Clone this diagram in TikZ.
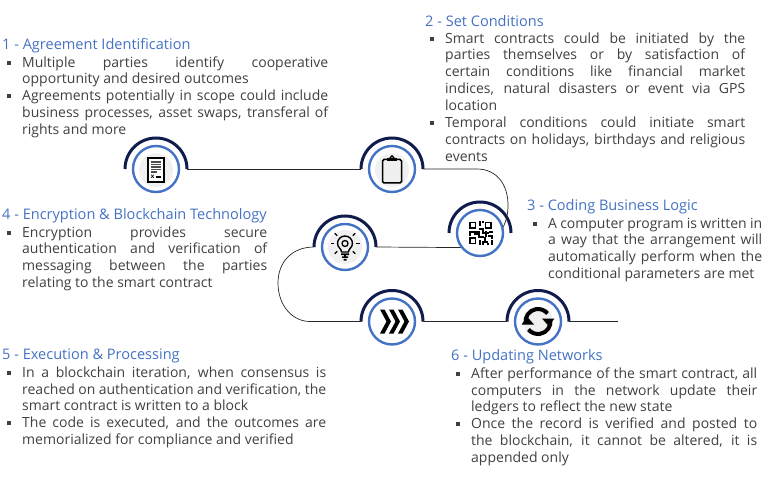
\documentclass[tikz,border=0pt]{standalone}
\usepackage{fontspec}
\setmainfont{Open Sans}
\usetikzlibrary{positioning,calc}

\definecolor{ringblue}{HTML}{4472C4}
\definecolor{halonavy}{HTML}{0F1C4D}
\definecolor{bodygray}{HTML}{404040}
\definecolor{iconback}{HTML}{F0F0F0}

\newlength{\bulletgap}
\setlength{\bulletgap}{15pt}
\newcommand{\bulletline}{\par\hangindent=\bulletgap\hangafter=1 \noindent\makebox[\bulletgap][l]{\raisebox{2.5pt}{\rule{4pt}{4pt}}}}

\tikzset{
	ring/.style={circle, draw=ringblue, line width=2.4pt, fill=white, minimum size=46pt, inner sep=0pt},
	halo/.style={circle, minimum size=62pt, inner sep=0pt, outer sep=0pt},
	link/.style={draw=black!85, line width=0.7pt},
	heading/.style={anchor=base west, inner sep=0pt, text=ringblue, font=\fontsize{14.55}{16}\selectfont},
	bodytext/.style={anchor=north west, inner sep=0pt, text=bodygray, align=justify, font=\fontsize{14}{16.9}\selectfont}
}

\begin{document}
\begin{tikzpicture}[x=1pt, y=-1pt]
	\useasboundingbox (0,0) rectangle (765,494);

	% Rings and the invisible discs round them
	\foreach \name/\px/\py in {1/156/169, 2/392/169, 3/480/233, 4/345/247, 5/392/321.5, 6/538/321.5} {
		\node [halo] (h\name) at (\px,\py) {};
		\draw [halonavy, line width=3pt] (h\name.west) arc [start angle=180, end angle=0, radius=31pt];
		\node [ring] (c\name) at (\px,\py) {};
	}
	\coordinate (bendtwo) at (477,169);
	\coordinate (sidetwo) at (508,205);
	\coordinate (bendfour) at (278,283);
	\coordinate (bendfive) at (310,321.5);
	\coordinate (endsix) at (618,321.5);

	% Paths
	\path [link] (h1.east) -- (h2.west);
	\path [link] (h2.east) -- (bendtwo) .. controls (497,169) and (508,185) .. (sidetwo) .. controls (508,215) and (506,221) .. (c3.15);
	\path [link] (h4.east) -- (c3.217.5);
	\path [link] (h4.west) .. controls (292,247) and (278,262) .. (bendfour) .. controls (278,305) and (292,321.5) .. (bendfive) -- (h5.west);
	\path [link] (h5.east) -- (h6.west);
	\path [link] (h6.east) -- (endsix);

	% Icons
	\begin{scope}[shift={(156,170)}]
		\fill [iconback] (0,0) circle (17pt);
		\draw [black, line width=1.3pt, fill=white] (-8,-12) rectangle (8,12);
		\foreach \y in {-8,-5.5,-3,-0.5} \draw [black!70, line width=1.1pt] (-5,\y) -- (5,\y);
		\draw [black!70, line width=1.1pt] (-5,2) -- (1,2);
		\node [inner sep=0pt, font=\fontsize{6}{6}\selectfont\bfseries] (xmark) at (-3.5,7) {x};
		\draw [black, line width=1.1pt] (0,7) -- (5,7);
	\end{scope}
	\begin{scope}[shift={(392,170)}]
		\fill [iconback] (0,0) circle (17pt);
		\draw [black, line width=1.5pt, fill=iconback, rounded corners=1.5pt] (-9.5,-10.5) rectangle (9.5,13);
		\fill [black] (-5,-9) rectangle (5,-12);
		\draw [black, line width=1.3pt, fill=iconback] (0,-12.5) circle (1.8pt);
	\end{scope}
	\begin{scope}[shift={(480.5,233.5)}]
		\foreach \x/\y in {-10.5/-11, 5/-11, -10.5/4.5} {
			\draw [black, line width=1.6pt] (\x,\y) rectangle +(5.5,5.5);
		}
		\foreach \x/\y/\w/\h in {-2/-12/2/5, 1/-12/2/2, -2/-5/5/2, 1/-5/2/6, -12/-2/9/2, -12/0/2/3, -7/0/4/2, -3/-2/2/7, 1/-1/7/2, 4/-2/2/6, 8/-2/4/2, -2/3/5/2, 3/4/2/4, 7/2/5/2, 10/4/2/2, -2/7/2/5, 1/8/6/2, 1/10/2/2, 6/10/2/2, 10/7/2/5} {
			\fill [black] (\x,\y) rectangle +(\w,\h);
		}
	\end{scope}
	\begin{scope}[shift={(345,247)}]
		\fill [iconback] (0,0) circle (17pt);
		\draw [black, line width=1.4pt] (-3.5,5) .. controls (-3.5,1.5) and (-7.5,0.5) .. (-7.5,-3.5) arc [start angle=180, end angle=0, radius=7.5pt] .. controls (7.5,0.5) and (3.5,1.5) .. (3.5,5) -- cycle;
		\draw [black, line width=1.3pt] (0,-3.5) circle (3pt);
		\fill [black] (-4,6.5) rectangle (4,8.2) (-3,9.5) rectangle (3,11) (-1.5,12) rectangle (1.5,13.5);
		\foreach \a in {0,45,90,135,180,-45,-135} \draw [black, line width=1.1pt] (0,-3.5) ++(\a:11) -- ++(\a:3.5);
	\end{scope}
	\begin{scope}[shift={(392,321.5)}]
		\foreach \x in {-12,-3,6} {
			\fill [black] (\x,-12) -- (\x+4.5,-12) -- (\x+11,0) -- (\x+4.5,12) -- (\x,12) -- (\x+6.5,0) -- cycle;
		}
	\end{scope}
	\begin{scope}[shift={(538,321.5)}]
		\fill [iconback] (0,0) circle (15pt);
		\draw [black, line width=4pt] (190:12.5pt) arc [start angle=190, end angle=40, radius=12.5pt];
		\fill [black] (4,-3) -- (16.5,-3) -- (10.6,4.5) -- cycle;
		\draw [black, line width=4pt] (10:12.5pt) arc [start angle=10, end angle=-140, radius=12.5pt];
		\fill [black] (-16.5,3) -- (-4,3) -- (-10.6,-4.5) -- cycle;
	\end{scope}

	% Texts
	\node [heading] (headone) at (2,50) {1 - Agreement Identification};
	\node [bodytext, text width=321pt] (bodyone) at (7,50) {\bulletline Multiple parties identify cooperative\linebreak opportunity and desired outcomes\bulletline Agreements potentially in scope could include\linebreak business processes, asset swaps, transferal of\linebreak rights and more\par};

	\node [heading] (headtwo) at (425,27) {2 - Set Conditions};
	\node [bodytext, text width=315pt] (bodytwo) at (430,26) {\bulletline Smart contracts could be initiated by the\linebreak parties themselves or by satisfaction of\linebreak certain conditions like financial market\linebreak indices, natural disasters or event via GPS\linebreak location\bulletline Temporal conditions could initiate smart\linebreak contracts on holidays, birthdays and religious\linebreak events\par};

	\node [heading] (headthree) at (527,211) {3 - Coding Business Logic};
	\node [bodytext, text width=229pt] (bodythree) at (533,211) {\bulletline A computer program is written in\linebreak a way that the arrangement will\linebreak automatically perform when the\linebreak conditional parameters are met\par};

	\node [heading] (headfour) at (2,220) {4 - Encryption \& Blockchain Technology};
	\node [bodytext, text width=260pt] (bodyfour) at (7,220) {\bulletline Encryption provides secure\linebreak authentication and verification of\linebreak messaging between the parties\linebreak relating to the smart contract\par};

	\node [heading] (headfive) at (2,359) {5 - Execution \& Processing};
	\node [bodytext, text width=319pt] (bodyfive) at (7,360) {\bulletline In a blockchain iteration, when consensus is\linebreak reached on authentication and verification, the\linebreak smart contract is written to a block\bulletline The code is executed, and the outcomes are\linebreak memorialized for compliance and verified\par};

	\node [heading] (headsix) at (451,360) {6 - Updating Networks};
	\node [bodytext, text width=301pt] (bodysix) at (456,361) {\bulletline After performance of the smart contract, all\linebreak computers in the network update their\linebreak ledgers to reflect the new state\bulletline Once the record is verified and posted to\linebreak the blockchain, it cannot be altered, it is\linebreak appended only\par};
\end{tikzpicture}
\end{document}
